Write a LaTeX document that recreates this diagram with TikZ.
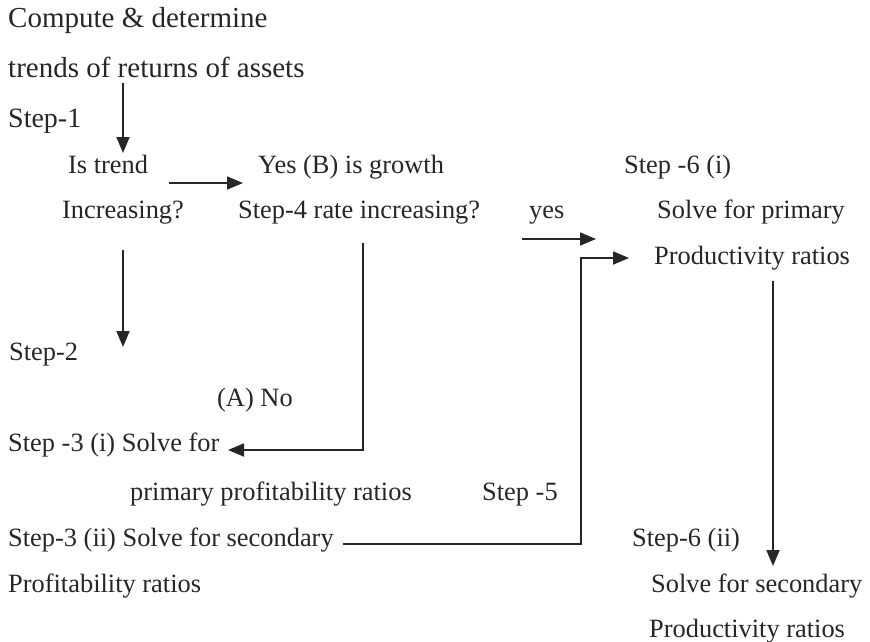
\documentclass[tikz,border=0pt]{standalone}
\usepackage{fontspec}
\setmainfont{Liberation Serif}
\usetikzlibrary{arrows.meta}
\definecolor{ink}{HTML}{262626}
\tikzset{
  lbl/.style={anchor=base west, inner sep=0pt, text=ink, font=\fontsize{26.4}{30}\selectfont},
  lblbig/.style={lbl, font=\fontsize{29}{32}\selectfont},
  conn/.style={draw=ink, line width=1.8pt},
  arr/.style={conn, -{Triangle[length=16pt,width=13pt]}}
}
\begin{document}
\begin{tikzpicture}[x=1pt,y=-1pt]
\useasboundingbox (0,0) rectangle (870,641);
% left column
\node[lblbig] (t1) at (8,27) {Compute \& determine};
\node[lblbig] (t2) at (8,77) {trends of returns of assets};
\node[lbl, font=\fontsize{28}{32}\selectfont] (s1) at (8,127) {Step-1};
\node[lbl] (q1a) at (68,173) {Is trend};
\node[lbl] (q1b) at (62,218) {Increasing?};
\node[lbl] (q2a) at (258,173) {Yes (B) is growth};
\node[lbl] (q2b) at (238,218) {Step-4 rate increasing?};
\node[lbl] (yes) at (529,218) {yes};
\node[lbl] (s6a) at (624,173) {Step -6 (i)};
\node[lbl] (p1) at (657,218) {Solve for primary};
\node[lbl] (p2) at (654,264) {Productivity ratios};
\node[lbl] (s2) at (9,360) {Step-2};
\node[lbl] (no) at (217,406) {(A) No};
\node[lbl] (s3a) at (8,451) {Step -3 (i) Solve for};
\node[lbl] (s3b) at (130,500) {primary profitability ratios};
\node[lbl] (s5) at (482,500) {Step -5};
\node[lbl] (s3c) at (8,546) {Step-3 (ii) Solve for secondary};
\node[lbl] (s3d) at (8,592) {Profitability ratios};
\node[lbl] (s6b) at (632,546) {Step-6 (ii)};
\node[lbl] (r1) at (651,592) {Solve for secondary};
\node[lbl] (r2) at (649,637) {Productivity ratios};
% connector end points
\coordinate (a1s) at (123,83);  \coordinate (a1e) at (123,153);
\coordinate (a2s) at (169,183); \coordinate (a2e) at (243,183);
\coordinate (a3s) at (123,250); \coordinate (a3e) at (123,347);
\coordinate (l4s) at (363,243); \coordinate (l4c) at (363,450); \coordinate (l4e) at (228,450);
\coordinate (a5s) at (522,239); \coordinate (a5e) at (596,239);
\coordinate (l5s) at (343,544); \coordinate (l5c1) at (581,544); \coordinate (l5c2) at (581,258); \coordinate (l5e) at (629,258);
\coordinate (a6s) at (773,281); \coordinate (a6e) at (773,566);
% connectors
\draw[arr] (a1s) -- (a1e);
\draw[arr] (a2s) -- (a2e);
\draw[arr] (a3s) -- (a3e);
\draw[arr] (l4s) -- (l4c) -- (l4e);
\draw[arr] (a5s) -- (a5e);
\draw[arr] (l5s) -- (l5c1) -- (l5c2) -- (l5e);
\draw[arr] (a6s) -- (a6e);
\end{tikzpicture}
\end{document}
